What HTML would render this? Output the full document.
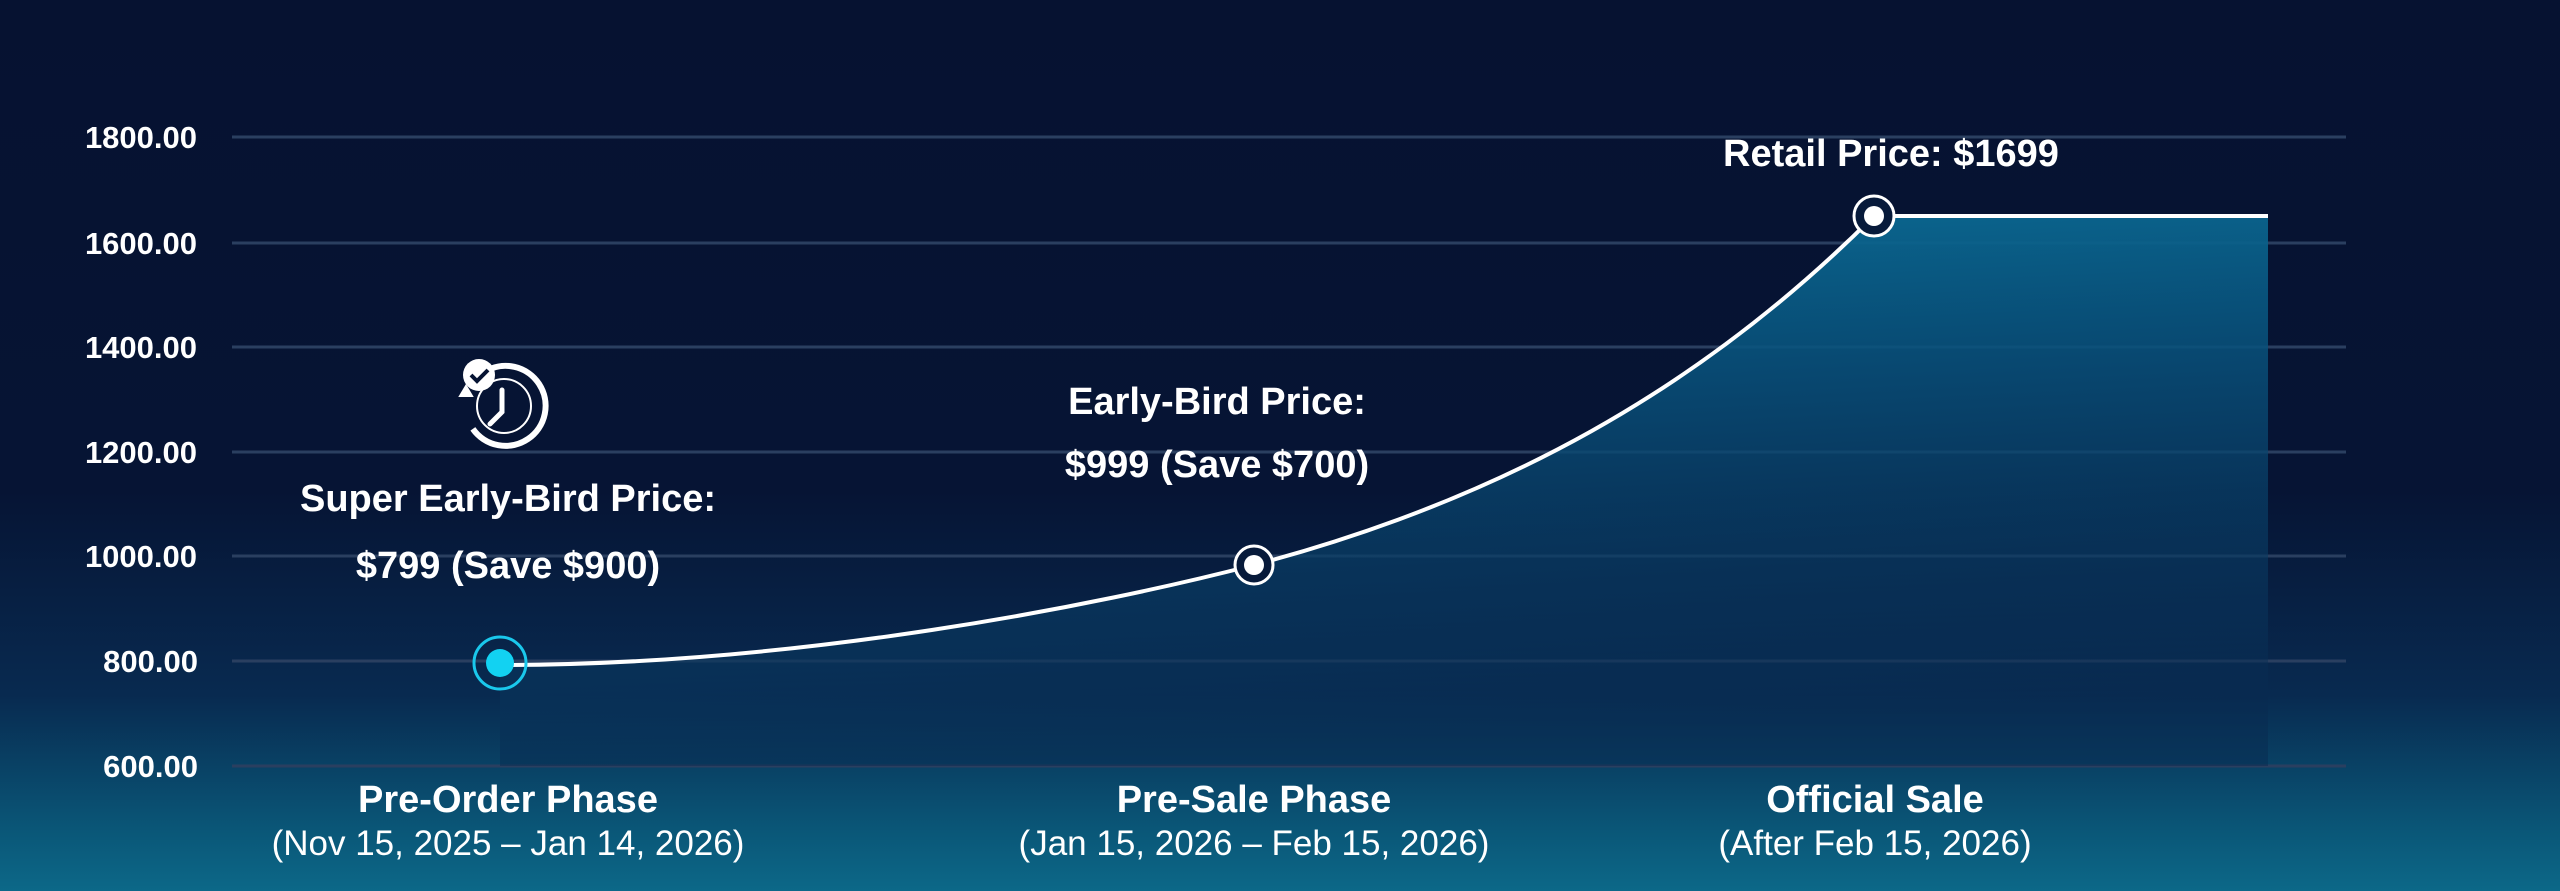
<!DOCTYPE html>
<html><head><style>
html,body{margin:0;padding:0;}
body{width:2560px;height:891px;overflow:hidden;background:linear-gradient(180deg,#061231 0%,#061434 55%,#082a50 78%,#0a5677 93%,#0c6888 100%);}
svg{display:block}
</style></head><body>
<svg width="2560" height="891" viewBox="0 0 2560 891" xmlns="http://www.w3.org/2000/svg">
<defs>
<linearGradient id="fill" x1="0" y1="0" x2="0.15" y2="1">
<stop offset="0" stop-color="#0b7099" stop-opacity="1"/>
<stop offset="0.4" stop-color="#08507a" stop-opacity="0.85"/>
<stop offset="1" stop-color="#082a50" stop-opacity="0.5"/>
</linearGradient>
</defs>
<g stroke="#2a3f60" stroke-width="3">
<line x1="232" y1="137" x2="2346" y2="137"/>
<line x1="232" y1="243" x2="2346" y2="243"/>
<line x1="232" y1="347" x2="2346" y2="347"/>
<line x1="232" y1="452" x2="2346" y2="452"/>
<line x1="232" y1="556" x2="2346" y2="556"/>
<line x1="232" y1="661" x2="2346" y2="661"/>
<line x1="232" y1="766" x2="2346" y2="766"/>
</g>
<path d="M500,665 C800,665 1100,605 1254,565 C1500,500 1700,390 1874,216 L2268,216 L2268,766 L500,766 Z" fill="url(#fill)"/>
<path d="M500,665 C800,665 1100,605 1254,565 C1500,500 1700,390 1874,216 L2268,216" fill="none" stroke="#fff" stroke-width="4"/>
<g font-family="'Liberation Sans Narrow','Liberation Sans',sans-serif" font-weight="bold" font-size="31" fill="#fff" text-anchor="end">
<text x="197" y="148">1800.00</text>
<text x="197" y="254">1600.00</text>
<text x="197" y="358">1400.00</text>
<text x="197" y="463">1200.00</text>
<text x="197" y="567">1000.00</text>
<text x="198" y="672">800.00</text>
<text x="198" y="777">600.00</text>
</g>
<circle cx="500" cy="663" r="26" fill="none" stroke="#1ac8ec" stroke-width="3"/>
<circle cx="500" cy="663" r="14" fill="#12d2f2"/>
<circle cx="1254" cy="565" r="19" fill="#071a3a" stroke="#fff" stroke-width="3"/>
<circle cx="1254" cy="565" r="10" fill="#fff"/>
<circle cx="1874" cy="216" r="20" fill="#071a3a" stroke="#fff" stroke-width="3"/>
<circle cx="1874" cy="216" r="10" fill="#fff"/>
<g transform="translate(504,406)" fill="none" stroke="#fff">
<path d="M-10,-38 A40,40 0 1 1 -36,14" stroke-width="6" transform="rotate(-15)"/>
<circle cx="0" cy="0" r="27" stroke-width="2"/>
<path d="M-44,-10 l6,-10 l6,10 z" fill="#fff" stroke-width="2"/>
<path d="M-2,-16 L-2,6 L-14,18" stroke-width="5" stroke-linecap="round"/>
<circle cx="-25" cy="-31" r="16" fill="#fff" stroke="none"/>
<path d="M-33,-31 l6,6 l11,-11" stroke="#061433" stroke-width="4"/>
</g>
<g font-family="'Liberation Sans',sans-serif" font-weight="bold" fill="#fff" text-anchor="middle" font-size="38">
<text x="508" y="511">Super Early-Bird Price:</text>
<text x="508" y="578">$799 (Save $900)</text>
<text x="1217" y="414">Early-Bird Price:</text>
<text x="1217" y="477">$999 (Save $700)</text>
<text x="1891" y="166">Retail Price: $1699</text>
<text x="508" y="812">Pre-Order Phase</text>
<text x="1254" y="812">Pre-Sale Phase</text>
<text x="1875" y="812">Official Sale</text>
</g>
<g font-family="'Liberation Sans',sans-serif" fill="#fff" text-anchor="middle" font-size="35">
<text x="508" y="855">(Nov 15, 2025 – Jan 14, 2026)</text>
<text x="1254" y="855">(Jan 15, 2026 – Feb 15, 2026)</text>
<text x="1875" y="855">(After Feb 15, 2026)</text>
</g>
</svg>
</body></html>
